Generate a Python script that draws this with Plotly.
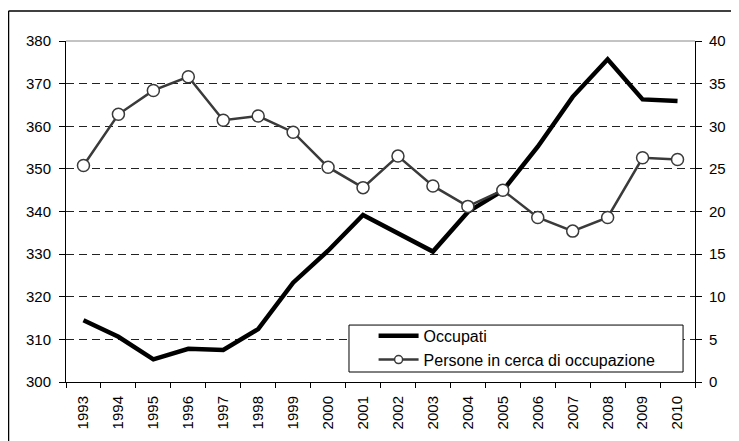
import plotly.graph_objects as go

# Data
anni = [str(a) for a in range(1993, 2011)]
occupati = [314.5, 310.6, 305.3, 307.8, 307.5, 312.4, 323.3, 330.8, 339.2,
            334.9, 330.6, 339.9, 344.9, 355.2, 366.9, 375.7, 366.3, 365.9]
persone_cerca = [25.4, 31.4, 34.2, 35.8, 30.7, 31.2, 29.3, 25.2, 22.8,
                 26.5, 23.0, 20.6, 22.5, 19.3, 17.7, 19.3, 26.3, 26.1]

FONT = "Liberation Sans, Arial, sans-serif"
GREY = "#3a3a3a"

fig = go.Figure()

# Occupati - thick black line, left axis
fig.add_trace(go.Scatter(
    x=anni, y=occupati, name="Occupati", mode="lines",
    line=dict(color="black", width=4.5),
    yaxis="y",
))

# Persone in cerca di occupazione - grey line with white circles, right axis
fig.add_trace(go.Scatter(
    x=anni, y=persone_cerca, name="Persone in cerca di occupazione",
    mode="lines+markers", showlegend=False,
    line=dict(color=GREY, width=2.5),
    marker=dict(symbol="circle", size=12, color="white",
                line=dict(color=GREY, width=1.5)),
    yaxis="y2",
))
# legend-only entry with a smaller marker, as in the original
fig.add_trace(go.Scatter(
    x=[None], y=[None], name="Persone in cerca di occupazione",
    mode="lines+markers",
    line=dict(color=GREY, width=2.5),
    marker=dict(symbol="circle", size=8, color="white",
                line=dict(color=GREY, width=1.5)),
    yaxis="y2",
))

# the page body adds an 8px margin, so the figure is 8px smaller each way
fig.update_layout(
    width=731, height=433,
    margin=dict(l=58, r=44, t=33, b=59),
    paper_bgcolor="white", plot_bgcolor="white",
    font=dict(family=FONT, size=15, color="black"),
    showlegend=True,
    legend=dict(
        x=0.489, y=0.185, xanchor="left", yanchor="top",
        bgcolor="rgba(0,0,0,0)", borderwidth=0,
        font=dict(family=FONT, size=16, color="black"),
        tracegroupgap=0, itemwidth=40,
    ),
    xaxis=dict(
        type="category", tickson="boundaries", range=[-0.5, 17.5],
        ticks="outside", ticklen=5, tickcolor="black",
        tickangle=-90, showline=True, linecolor="black", linewidth=1,
        showgrid=False, tickfont=dict(size=15), automargin=False,
        ticklabelstandoff=7,
    ),
    yaxis=dict(
        range=[300, 380], dtick=10, ticks="outside", ticklen=6,
        tickcolor="black", showline=True, linecolor="black", linewidth=1,
        showgrid=True, gridcolor="#222222", gridwidth=1, griddash="8px,5px",
        zeroline=False, tickfont=dict(size=15), automargin=False,
        ticklabelstandoff=5,
    ),
    yaxis2=dict(
        range=[0, 40], dtick=5, overlaying="y", side="right",
        ticks="outside", ticklen=6, tickcolor="black",
        showline=True, linecolor="black", linewidth=1,
        showgrid=False, zeroline=False, tickfont=dict(size=15),
        automargin=False, ticklabelstandoff=4,
    ),
    shapes=[
        # solid grey top edge of the plot area
        dict(type="line", xref="paper", yref="paper", x0=0, x1=1, y0=1, y1=1,
             line=dict(color="#888888", width=1), layer="above"),
        # legend box
        dict(type="rect", xref="paper", yref="paper", x0=0.4499, x1=0.981,
             y0=0.0293, y1=0.167, fillcolor="white",
             line=dict(color="black", width=1), layer="above"),
        # outer frame (top and left edges)
        dict(type="line", xref="paper", yref="paper", x0=-0.0914, x1=1.2,
             y0=1.088, y1=1.088, line=dict(color="black", width=1.5)),
        dict(type="line", xref="paper", yref="paper", x0=-0.0914, x1=-0.0914,
             y0=1.088, y1=-0.3, line=dict(color="black", width=1.5)),
    ],
)

fig.write_html("out.html")
